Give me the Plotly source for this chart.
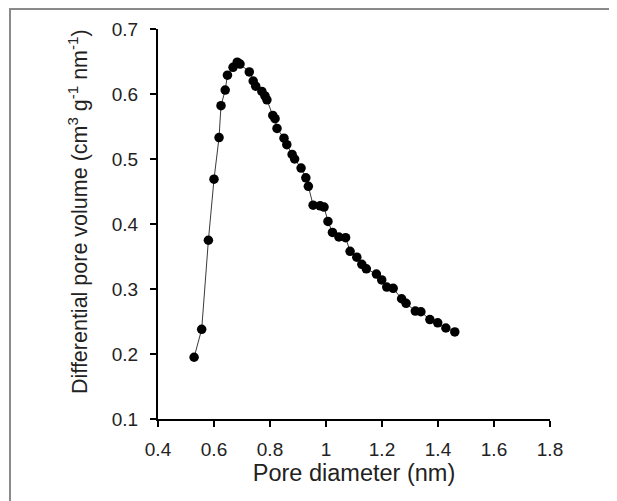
import plotly.graph_objects as go

pore_diameter = [0.529, 0.556, 0.580, 0.600, 0.618, 0.625, 0.640, 0.648, 0.668, 0.683,
                 0.693, 0.726, 0.740, 0.749, 0.771, 0.782, 0.789, 0.810, 0.818, 0.825,
                 0.850, 0.860, 0.879, 0.888, 0.911, 0.928, 0.937, 0.954, 0.979, 0.993,
                 1.007, 1.023, 1.046, 1.070, 1.086, 1.110, 1.128, 1.144, 1.180, 1.199,
                 1.217, 1.240, 1.270, 1.286, 1.319, 1.339, 1.371, 1.399, 1.428, 1.460]
diff_pore_volume = [0.195, 0.238, 0.375, 0.469, 0.533, 0.582, 0.606, 0.629, 0.641, 0.649,
                    0.646, 0.634, 0.620, 0.612, 0.604, 0.597, 0.591, 0.567, 0.562, 0.547,
                    0.532, 0.522, 0.507, 0.500, 0.486, 0.471, 0.458, 0.429, 0.428, 0.426,
                    0.404, 0.387, 0.380, 0.379, 0.358, 0.349, 0.338, 0.331, 0.323, 0.314,
                    0.303, 0.301, 0.285, 0.278, 0.266, 0.265, 0.253, 0.248, 0.240, 0.234]

x_ticks = [0.4, 0.6, 0.8, 1.0, 1.2, 1.4, 1.6, 1.8]
x_tick_labels = ["0.4", "0.6", "0.8", "1", "1.2", "1.4", "1.6", "1.8"]
y_ticks = [0.1, 0.2, 0.3, 0.4, 0.5, 0.6, 0.7]
y_tick_labels = ["0.1", "0.2", "0.3", "0.4", "0.5", "0.6", "0.7"]
x_title = "Pore diameter (nm)"
y_title = "Differential pore volume (cm<sup>3</sup> g<sup>-1</sup> nm<sup>-1</sup>)"

# the page keeps the browser's 8px body margin; the figure fills the rest
OFF = 8
W, H = 617 - OFF, 501 - OFF
L, R, T, B = 150, 67, 21, 82
pw, ph = W - L - R, H - T - B

def px(x):
    # window pixel x -> paper fraction
    return (x - OFF - L) / pw

def py(y):
    # window pixel y -> paper fraction
    return (H - B - (y - OFF)) / ph

fig = go.Figure()
fig.add_trace(go.Scatter(
    x=pore_diameter, y=diff_pore_volume, mode="lines+markers",
    line=dict(color="#3a3a3a", width=1),
    marker=dict(color="black", size=9.5),
    showlegend=False, cliponaxis=False,
))

font = "Liberation Sans, Arial, sans-serif"
axis_common = dict(
    showgrid=False, zeroline=False, showline=True, linecolor="black", linewidth=2,
    ticks="outside", ticklen=6, tickwidth=2, tickcolor="black",
    tickfont=dict(family=font, size=19, color="#222"),
)
fig.update_xaxes(range=[0.4, 1.8], tickvals=x_ticks, ticktext=x_tick_labels, ticklabelstandoff=6,
                 title=dict(text=x_title, font=dict(family=font, size=23.5, color="#222"), standoff=6),
                 **axis_common)
fig.update_yaxes(range=[0.1, 0.7], tickvals=y_ticks, ticktext=y_tick_labels, ticklabelstandoff=8,
                 **axis_common)

fig.update_layout(
    width=W, height=H, margin=dict(l=L, r=R, t=T, b=B, autoexpand=False),
    paper_bgcolor="white", plot_bgcolor="white",
    annotations=[
        dict(text=y_title, xref="paper", yref="paper", x=px(78), y=py(212),
             xanchor="center", yanchor="middle", textangle=-90, showarrow=False,
             font=dict(family=font, size=21.5, color="#222")),
    ],
    shapes=[
        dict(type="rect", xref="paper", yref="paper", x0=px(9), x1=px(617), y0=py(8), y1=py(10),
             line=dict(width=0), fillcolor="#8a8a8a", layer="above"),
        dict(type="rect", xref="paper", yref="paper", x0=px(9), x1=px(11), y0=py(8), y1=py(501),
             line=dict(width=0), fillcolor="#8a8a8a", layer="above"),
        dict(type="rect", xref="paper", yref="paper", x0=px(566), x1=px(617), y0=py(465), y1=py(428),
             line=dict(width=0), fillcolor="white", layer="above"),
    ],
)

fig.write_html("out.html", config={"displayModeBar": False},
               post_script="document.body.style.overflow='hidden';")
